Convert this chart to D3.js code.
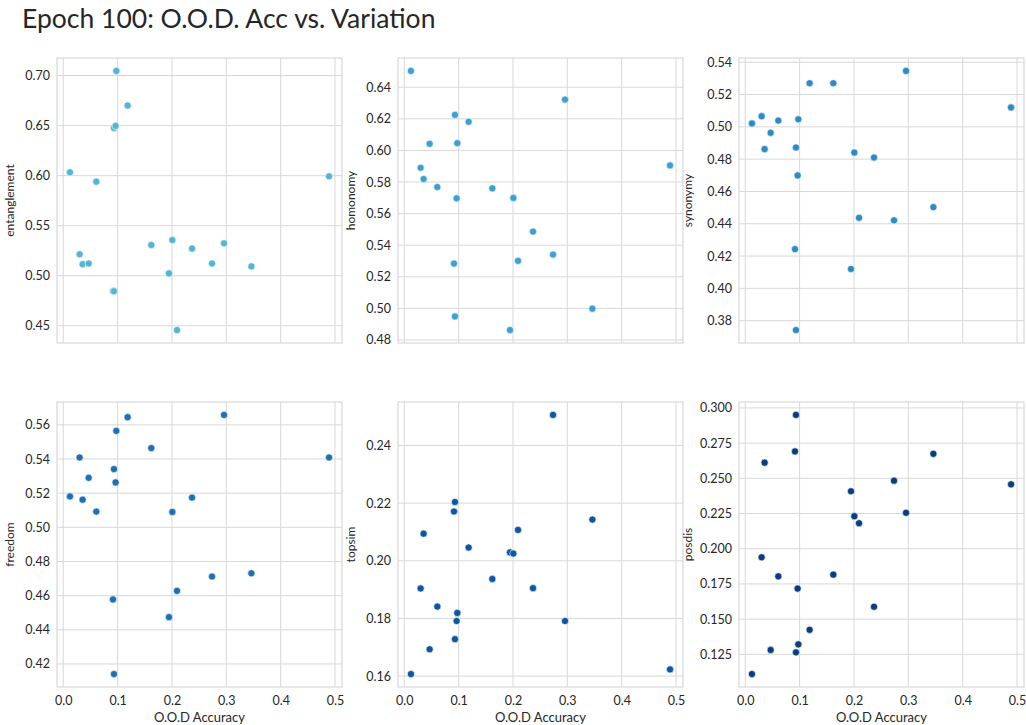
<!DOCTYPE html>
<html>
<head>
<meta charset="utf-8">
<script src="https://cdn.jsdelivr.net/npm/d3@7"></script>
<style>
  html, body { margin: 0; padding: 0; background: #fff; }
  svg { display: block; font-family: Lato, "Open Sans", sans-serif; }
</style>
</head>
<body>
<svg id="chart" width="1026" height="725"></svg>
<script>
// ---- data ----
const oodAccuracy = [0.0123, 0.0301, 0.0356, 0.0467, 0.0608, 0.0915, 0.0933, 0.0933, 0.0963, 0.0976,
                     0.1184, 0.1620, 0.1945, 0.2007, 0.2093, 0.2369, 0.2737, 0.2958, 0.3461, 0.4890];

const entanglement = [0.6033, 0.5214, 0.5115, 0.5122, 0.5940, 0.4847, 0.4845, 0.6477, 0.6497, 0.7046,
                      0.6701, 0.5307, 0.5023, 0.5357, 0.4457, 0.5271, 0.5122, 0.5324, 0.5093, 0.5993];
const homonomy = [0.6503, 0.5890, 0.5819, 0.6042, 0.5768, 0.5284, 0.6225, 0.4949, 0.5697, 0.6046,
                  0.6181, 0.5760, 0.4863, 0.5699, 0.5301, 0.5486, 0.5341, 0.6322, 0.4998, 0.5905];
const synonymy = [0.5021, 0.5066, 0.4862, 0.4963, 0.5039, 0.4243, 0.4872, 0.3742, 0.4699, 0.5047,
                  0.5270, 0.5270, 0.4120, 0.4841, 0.4437, 0.4810, 0.4421, 0.5346, 0.4503, 0.5120];
const freedom = [0.5181, 0.5409, 0.5162, 0.5290, 0.5092, 0.4578, 0.5341, 0.4141, 0.5263, 0.5565,
                 0.5645, 0.5464, 0.4474, 0.5090, 0.4628, 0.5174, 0.4712, 0.5658, 0.4731, 0.5409];
const topsim = [0.1607, 0.1904, 0.2094, 0.1693, 0.1841, 0.2171, 0.2204, 0.1728, 0.1791, 0.1819,
                0.2046, 0.1937, 0.2029, 0.2025, 0.2107, 0.1905, 0.2506, 0.1791, 0.2143, 0.1623];
const posdis = [0.1110, 0.1939, 0.2611, 0.1281, 0.1804, 0.2691, 0.2950, 0.1264, 0.1717, 0.1321,
                0.1424, 0.1816, 0.2408, 0.2231, 0.2181, 0.1588, 0.2483, 0.2255, 0.2674, 0.2457];

const metricNames = ["entanglement", "homonomy", "synonymy", "freedom", "topsim", "posdis"];
const metricValues = [entanglement, homonomy, synonymy, freedom, topsim, posdis];
const metricColors = ["#52b5d6", "#3aa1d2", "#2b8bc6", "#1c71b3", "#0c57a1", "#083e80"];

const xTicks = [0.0, 0.1, 0.2, 0.3, 0.4, 0.5];
const xTickLabels = ["0.0", "0.1", "0.2", "0.3", "0.4", "0.5"];
const yTicks = [
  [0.45, 0.50, 0.55, 0.60, 0.65, 0.70],
  [0.48, 0.50, 0.52, 0.54, 0.56, 0.58, 0.60, 0.62, 0.64],
  [0.38, 0.40, 0.42, 0.44, 0.46, 0.48, 0.50, 0.52, 0.54],
  [0.42, 0.44, 0.46, 0.48, 0.50, 0.52, 0.54, 0.56],
  [0.16, 0.18, 0.20, 0.22, 0.24],
  [0.125, 0.150, 0.175, 0.200, 0.225, 0.250, 0.275, 0.300]
];
const yTickFormats = [".2f", ".2f", ".2f", ".2f", ".2f", ".3f"];

const title = "Epoch 100: O.O.D. Acc vs. Variation";
const xLabel = "O.O.D Accuracy";

// ---- layout ----
const svg = d3.select("#chart");
const colLeft = [57, 398, 739];
const rowTop = [58, 402];
const pw = 285, ph = 285;
const gridColor = "#d8d8d8";
const textColor = "#262626";
const fontFam = "Lato, 'Open Sans', sans-serif";

svg.append("text")
  .attr("x", 22).attr("y", 28)
  .attr("font-size", 26.5).attr("fill", textColor)
  .text(title);

function padded(vals) {
  const mn = d3.min(vals), mx = d3.max(vals), r = mx - mn;
  return [mn - 0.05 * r, mx + 0.05 * r];
}
const xDomain = padded(oodAccuracy);

metricNames.forEach((name, i) => {
  const row = Math.floor(i / 3), col = i % 3;
  const g = svg.append("g").attr("transform", `translate(${colLeft[col]},${rowTop[row]})`);
  const x = d3.scaleLinear().domain(xDomain).range([0, pw]);
  const y = d3.scaleLinear().domain(padded(metricValues[i])).range([ph, 0]);

  // grid
  g.selectAll(".gx").data(xTicks).enter().append("line")
    .attr("x1", d => x(d)).attr("x2", d => x(d))
    .attr("y1", 0).attr("y2", ph)
    .attr("stroke", gridColor).attr("stroke-width", 1);
  g.selectAll(".gy").data(yTicks[i]).enter().append("line")
    .attr("x1", 0).attr("x2", pw)
    .attr("y1", d => y(d)).attr("y2", d => y(d))
    .attr("stroke", gridColor).attr("stroke-width", 1);

  // frame
  g.append("rect").attr("x", 0).attr("y", 0).attr("width", pw).attr("height", ph)
    .attr("fill", "none").attr("stroke", gridColor).attr("stroke-width", 1.2);

  // y axis
  const yAxis = d3.axisLeft(y).tickValues(yTicks[i]).tickFormat(d3.format(yTickFormats[i]))
    .tickSize(0).tickPadding(7);
  const ya = g.append("g").call(yAxis);
  ya.select(".domain").remove();
  ya.selectAll("text").attr("font-size", 12.5).attr("fill", textColor)
    .attr("font-family", fontFam);

  // y label
  const labelOffset = col === 2 ? 47 : 43;
  g.append("text")
    .attr("transform", `translate(${-labelOffset},${ph / 2}) rotate(-90)`)
    .attr("text-anchor", "middle")
    .attr("font-size", 12).attr("fill", textColor)
    .text(name);

  // x axis (bottom row only)
  if (row === 1) {
    const xAxis = d3.axisBottom(x).tickValues(xTicks)
      .tickFormat((d, k) => xTickLabels[k]).tickSize(0).tickPadding(9);
    const xa = g.append("g").attr("transform", `translate(0,${ph})`).call(xAxis);
    xa.select(".domain").remove();
    xa.selectAll("text").attr("font-size", 12.5).attr("fill", textColor)
      .attr("font-family", fontFam);
    g.append("text")
      .attr("x", pw / 2).attr("y", ph + 35)
      .attr("text-anchor", "middle")
      .attr("font-size", 13).attr("fill", textColor)
      .text(xLabel);
  }

  // points
  g.selectAll(".pt").data(oodAccuracy.map((v, k) => [v, metricValues[i][k]])).enter()
    .append("circle")
    .attr("cx", d => x(d[0])).attr("cy", d => y(d[1]))
    .attr("r", 3.6)
    .attr("fill", metricColors[i])
    .attr("stroke", "#fff").attr("stroke-width", 0.6);
});
</script>
</body>
</html>
